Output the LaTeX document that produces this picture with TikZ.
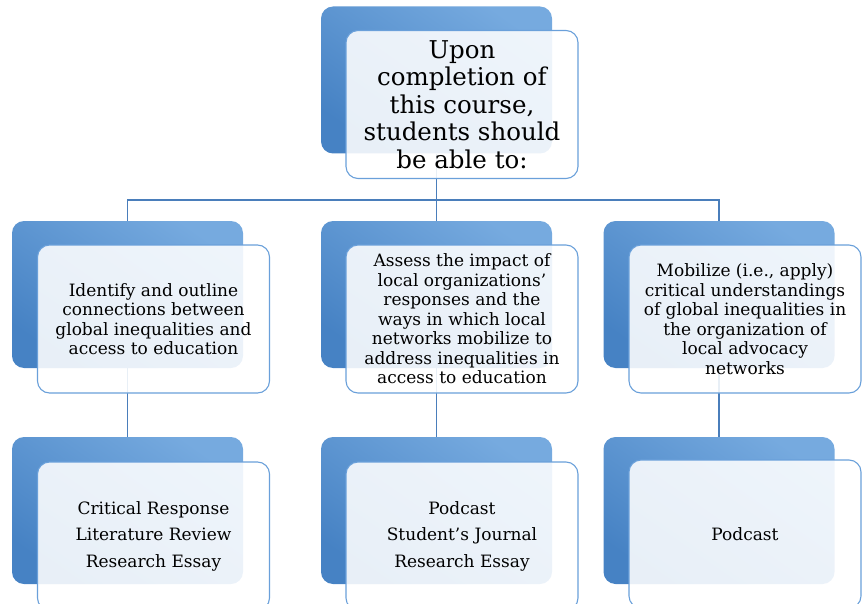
\documentclass[tikz,border=0pt]{standalone}
\usepackage{fontspec}
\setmainfont{DejaVu Serif}
\usetikzlibrary{backgrounds}
\definecolor{backtop}{HTML}{76AADF}
\definecolor{backbot}{HTML}{4682C4}
\definecolor{edge}{HTML}{6AA0DA}
\definecolor{linecol}{HTML}{4A7EBB}

\begin{document}
\begin{tikzpicture}[x=1pt,y=-1pt,
    back/.style={rounded corners=12pt,inner sep=0pt,minimum width=231pt,minimum height=147pt,
      top color=backtop,bottom color=backbot,shading angle=-35},
    front/.style={draw=edge,line width=1.1pt,rounded corners=12pt,fill=white,fill opacity=0.88,
      text opacity=1,minimum width=232pt,minimum height=148pt,align=center,inner sep=2pt,
      font=\fontsize{17}{19.5}\selectfont},
    list/.style={front,font=\fontsize{17}{26.5}\selectfont},
    link/.style={draw=linecol,line width=1.1pt}]
    \clip (0,0) rectangle (867,604);

    % goal
    \node[back] (goalb) at (436.5,80) {};
    \node[front,font=\fontsize{24.5}{27.5}\selectfont] (goal) at (462,104.5)
      {Upon\\completion of\\this course,\\students should\\be able to:};

    % outcomes
    \node[back] (identb) at (127.5,294.5) {};
    \node[front] (ident) at (153.5,319)
      {Identify and outline\\connections between\\global inequalities and\\access to education};
    \node[back] (assessb) at (436.5,294.5) {};
    \node[front] (assess) at (462,319)
      {Assess the impact of\\local organizations'\\responses and the\\ways in which local\\networks mobilize to\\address inequalities in\\access to education};
    \node[back] (mobilb) at (719,294.5) {};
    \node[front] (mobil) at (745,319)
      {Mobilize (i.e., apply)\\critical understandings\\of global inequalities in\\the organization of\\local advocacy\\networks};

    % assessments
    \node[back] (taskab) at (127.5,510.5) {};
    \node[list] (taska) at (153.5,536)
      {Critical Response\\Literature Review\\Research Essay};
    \node[back] (taskbb) at (436.5,510.5) {};
    \node[list] (taskb) at (462,536)
      {Podcast\\Student's Journal\\Research Essay};
    \node[back] (taskcb) at (719,510.5) {};
    \node[list] (taskc) at (745,534) {Podcast};

    \begin{scope}[on background layer]
    \coordinate (bus) at (0,200);
    \draw[link] (goalb.south) -- (goalb.south |- bus);
    \draw[link] (identb.north) |- (goalb.south |- bus) -| (mobilb.north);
    \draw[link] (goalb.south |- bus) -- (assessb.north);
    \draw[link] (identb.south) -- (taskab.north);
    \draw[link] (assessb.south) -- (taskbb.north);
    \draw[link] (mobilb.south) -- (taskcb.north);
    \end{scope}
\end{tikzpicture}
\end{document}
